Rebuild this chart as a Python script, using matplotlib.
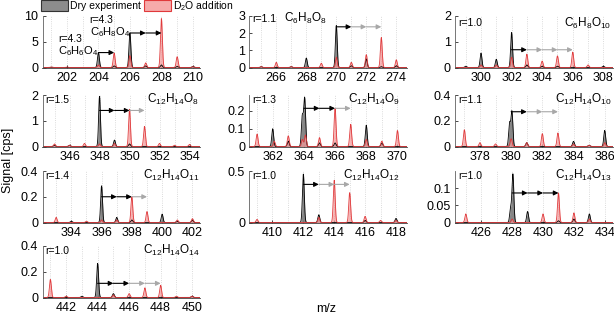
import numpy as np
import matplotlib
matplotlib.use('Agg')
import matplotlib.pyplot as plt
from matplotlib.patches import Patch

plt.rcParams['font.family'] = ['Liberation Sans', 'DejaVu Sans']
plt.rcParams['mathtext.default'] = 'regular'

# peak lists: (m/z, signal in cps)
p1_dry_mz = [201, 204, 205, 206, 207, 208, 209, 210]
p1_dry_int = [0.05, 2.9, 0.3, 6.7, 0.3, 0.5, 0.2, 0.2]
p1_d2o_mz = [201, 202, 204, 205, 206, 207, 208, 209, 210]
p1_d2o_int = [0.1, 0.1, 0.5, 2.8, 2.3, 0.9, 9.5, 2.1, 0.15]

p2_dry_mz = [265, 267, 268, 270, 271, 272, 273, 274]
p2_dry_int = [0.05, 0.05, 0.55, 2.45, 0.1, 0.5, 0.05, 0.1]
p2_d2o_mz = [265, 266, 267, 269, 270, 271, 272, 273, 274]
p2_d2o_int = [0.05, 0.3, 0.05, 0.25, 0.6, 0.3, 0.75, 1.75, 0.45]

p3_dry_mz = [299, 300, 301, 302, 303, 304, 305, 308]
p3_dry_int = [0.05, 0.56, 0.32, 1.36, 0.1, 0.05, 0.05, 0.05]
p3_d2o_mz = [300, 301, 302, 303, 304, 305, 306, 307]
p3_d2o_int = [0.1, 0.1, 0.4, 0.52, 0.25, 0.45, 0.6, 0.1]

p4_dry_mz = [345, 346, 348, 349, 350]
p4_dry_int = [0.05, 0.05, 1.95, 0.25, 0.1]
p4_d2o_mz = [345, 346, 347, 348, 349, 350, 351, 352, 353, 354]
p4_d2o_int = [0.1, 0.05, 0.12, 0.1, 0.12, 1.45, 0.78, 0.12, 0.05, 0.08]

p5_dry_mz = [362, 363, 363.9, 364.05, 365, 366, 368, 369]
p5_dry_int = [0.1, 0.03, 0.17, 0.27, 0.02, 0.02, 0.12, 0.02]
p5_d2o_mz = [361, 362.1, 363, 363.9, 364.1, 365, 366, 367, 368, 369, 370]
p5_d2o_int = [0.07, 0.03, 0.06, 0.04, 0.065, 0.05, 0.215, 0.125, 0.04, 0.03, 0.09]

p6_dry_mz = [379.9, 380.05, 381, 384, 385, 386]
p6_dry_int = [0.18, 0.27, 0.03, 0.04, 0.01, 0.125]
p6_d2o_mz = [377, 378, 379, 380, 381, 382, 383, 384, 385, 386]
p6_d2o_int = [0.13, 0.03, 0.02, 0.06, 0.03, 0.1, 0.105, 0.02, 0.01, 0.03]

p7_dry_mz = [394, 396, 397, 398, 400, 401, 402]
p7_dry_int = [0.01, 0.285, 0.04, 0.02, 0.065, 0.01, 0.02]
p7_d2o_mz = [393, 395, 396, 397, 398, 399, 401, 402]
p7_d2o_int = [0.04, 0.01, 0.02, 0.02, 0.2, 0.085, 0.02, 0.03]

p8_dry_mz = [412, 413, 416, 418]
p8_dry_int = [0.47, 0.075, 0.02, 0.04]
p8_d2o_mz = [409, 413, 414, 415, 416, 417, 418]
p8_d2o_int = [0.03, 0.05, 0.41, 0.29, 0.06, 0.02, 0.02]

p9_dry_mz = [427.9, 428.05, 429, 431, 432, 433]
p9_dry_int = [0.04, 0.14, 0.032, 0.005, 0.01, 0.025]
p9_d2o_mz = [425, 428, 430, 431, 432, 433]
p9_d2o_int = [0.025, 0.01, 0.025, 0.086, 0.028, 0.01]

p10_dry_mz = [443, 444, 445, 450]
p10_dry_int = [0.01, 0.265, 0.03, 0.01]
p10_d2o_mz = [441, 442, 445, 446, 447, 448, 449, 450]
p10_d2o_int = [0.14, 0.01, 0.02, 0.03, 0.075, 0.095, 0.01, 0.01]

formulas = ['C$_6$H$_8$O$_8$', 'C$_6$H$_8$O$_{10}$', 'C$_{12}$H$_{14}$O$_8$',
            'C$_{12}$H$_{14}$O$_9$', 'C$_{12}$H$_{14}$O$_{10}$', 'C$_{12}$H$_{14}$O$_{11}$',
            'C$_{12}$H$_{14}$O$_{12}$', 'C$_{12}$H$_{14}$O$_{13}$', 'C$_{12}$H$_{14}$O$_{14}$']
ratios = ['r=1.1', 'r=1.0', 'r=1.5', 'r=1.3', 'r=1.1', 'r=1.4', 'r=1.0', 'r=1.0', 'r=1.0']
parent_mz = [270, 302, 348, 364, 380, 396, 412, 428, 444]
arrow_y = [2.37, 0.69, 1.4, 0.215, 0.27, 0.2, 0.37, 0.086, 0.11]
# colour of each one-mass step of the shift arrow: k = black, g = grey
arrow_steps = ['kgg', 'kggg', 'kkg', 'kkg', 'kgg', 'kkg', 'kgg', 'kkk', 'kkgg']

# panel 1 holds two compounds
p1_formulas = ['C$_6$H$_6$O$_4$', 'C$_6$H$_8$O$_4$']
p1_ratios = ['r=4.3', 'r=4.3']
p1_parent = [204, 206]
p1_arrow_y = [2.9, 6.7]
p1_steps = ['k', 'kk']

spectra = [(p1_dry_mz, p1_dry_int, p1_d2o_mz, p1_d2o_int),
           (p2_dry_mz, p2_dry_int, p2_d2o_mz, p2_d2o_int),
           (p3_dry_mz, p3_dry_int, p3_d2o_mz, p3_d2o_int),
           (p4_dry_mz, p4_dry_int, p4_d2o_mz, p4_d2o_int),
           (p5_dry_mz, p5_dry_int, p5_d2o_mz, p5_d2o_int),
           (p6_dry_mz, p6_dry_int, p6_d2o_mz, p6_d2o_int),
           (p7_dry_mz, p7_dry_int, p7_d2o_mz, p7_d2o_int),
           (p8_dry_mz, p8_dry_int, p8_d2o_mz, p8_d2o_int),
           (p9_dry_mz, p9_dry_int, p9_d2o_mz, p9_d2o_int),
           (p10_dry_mz, p10_dry_int, p10_d2o_mz, p10_d2o_int)]

xlims = [(200.45, 210.45), (264.2, 274.7), (298.3, 308.6), (344.2, 354.7),
         (360.5, 370.6), (376.4, 386.5), (392.1, 402.5), (408.5, 418.7),
         (424.3, 434.5), (440.5, 450.5)]
xticks = [[202, 204, 206, 208, 210], [266, 268, 270, 272, 274],
          [300, 302, 304, 306, 308], [346, 348, 350, 352, 354],
          [362, 364, 366, 368, 370], [378, 380, 382, 384, 386],
          [394, 396, 398, 400, 402], [410, 412, 414, 416, 418],
          [426, 428, 430, 432, 434], [442, 444, 446, 448, 450]]
ylims = [10, 3, 2, 2, 0.29, 0.4, 0.4, 0.5, 0.15, 0.4]
yticks = [[0, 5, 10], [0, 1, 2, 3], [0, 1, 2], [0, 1, 2], [0, 0.1, 0.2],
          [0, 0.2, 0.4], [0, 0.2, 0.4], [0, 0.5], [0, 0.05, 0.1], [0, 0.2, 0.4]]
yticklabels = [['0', '5', '10'], ['0', '1', '2', '3'], ['0', '1', '2'], ['0', '1', '2'],
               ['0', '0.1', '0.2'], ['0', '0.2', '0.4'], ['0', '0.2', '0.4'],
               ['0', '0.5'], ['0', '0.05', '0.1'], ['0', '0.2', '0.4']]

W, H = 614, 326
fig = plt.figure(figsize=(W / 100, H / 100), dpi=100)

col_left = [42.5, 249.3, 455]
row_top = [16, 95, 171, 246]
ax_w, ax_h = 157.5, 51.5
slots = [(0, 0), (0, 1), (0, 2), (1, 0), (1, 1), (1, 2), (2, 0), (2, 1), (2, 2), (3, 0)]

DRY_FILL, DRY_LINE = '#7a7a7a', 'black'
D2O_FILL, D2O_LINE = '#f39a9a', '#e0393b'
GREY = '#a8a8a8'
SIGMA = 0.06


def profile(x, mz, inten):
    y = np.zeros_like(x)
    for m, h in zip(mz, inten):
        y += h * np.exp(-0.5 * ((x - m) / SIGMA) ** 2)
    return y


def shift_arrow(ax, m0, y, steps):
    for i, c in enumerate(steps):
        col = 'black' if c == 'k' else GREY
        ax.annotate('', xy=(m0 + i + 1, y), xytext=(m0 + i, y),
                    arrowprops=dict(arrowstyle='-|>', color=col, lw=0.8,
                                    mutation_scale=7, shrinkA=0, shrinkB=0))


for k, (r, c) in enumerate(slots):
    l = col_left[c] / W
    b = 1 - (row_top[r] + ax_h) / H
    ax = fig.add_axes([l, b, ax_w / W, ax_h / H])
    dmz, dint, rmz, rint = spectra[k]
    x = np.linspace(xlims[k][0], xlims[k][1], 3000)
    yd = profile(x, dmz, dint)
    yr = profile(x, rmz, rint)
    ax.fill_between(x, yd, color=DRY_FILL, lw=0, alpha=0.9)
    ax.plot(x, yd, color=DRY_LINE, lw=0.6)
    ax.fill_between(x, yr, color=D2O_FILL, lw=0, alpha=0.75)
    ax.plot(x, yr, color=D2O_LINE, lw=0.6)

    ax.set_xlim(*xlims[k])
    ax.set_ylim(0, ylims[k])
    ax.set_xticks(xticks[k])
    ax.set_xticks(np.arange(np.ceil(xlims[k][0]), xlims[k][1], 1), minor=True)
    ax.set_yticks(yticks[k])
    ax.set_yticklabels(yticklabels[k])
    ax.grid(True, which='both', axis='x', color='#cfcfcf', ls=':', lw=0.6)
    ax.set_axisbelow(True)
    for s in ('top', 'right'):
        ax.spines[s].set_visible(False)
    ax.spines['left'].set_color('#606060')
    ax.spines['left'].set_linewidth(0.6)
    ax.spines['bottom'].set_color('#404040')
    ax.spines['bottom'].set_linewidth(0.6)
    ax.tick_params(axis='both', which='major', labelsize=9, length=2,
                   width=0.5, direction='in', pad=3)
    ax.tick_params(axis='x', which='minor', length=0)

    if k == 0:
        for j in range(2):
            m0 = p1_parent[j]
            shift_arrow(ax, m0, p1_arrow_y[j], p1_steps[j])
            ax.text(m0 - 2.55, p1_arrow_y[j] + 0.2, p1_formulas[j],
                    fontsize=8, ha='left', va='center')
            ax.text(m0 - 2.55, p1_arrow_y[j] + 2.6, p1_ratios[j],
                    fontsize=7.5, ha='left', va='center')
    else:
        i = k - 1
        shift_arrow(ax, parent_mz[i], arrow_y[i], arrow_steps[i])
        ty = 0.95 if k == 1 else (0.86 if k == 2 else 0.91)
        ax.text(0.02, ty, ratios[i], transform=ax.transAxes,
                fontsize=7.5, ha='left', va='center')
        if k == 1:
            ax.text(266.5, ty, formulas[i], transform=ax.get_xaxis_transform(),
                    fontsize=8.5, ha='left', va='center')
        else:
            fx = 0.955 if k in (4, 7) else 0.995
            ax.text(fx, ty, formulas[i], transform=ax.transAxes,
                    fontsize=8.5, ha='right', va='center')

handles = [Patch(facecolor='#8c8c8c', edgecolor='#333333', lw=0.8),
           Patch(facecolor='#f6aaaa', edgecolor='#e0393b', lw=0.8)]
fig.legend(handles, ['Dry experiment', 'D$_2$O addition'], loc='upper left',
           bbox_to_anchor=(40 / W, 1 + 2 / H), ncol=2, frameon=False, fontsize=7.5,
           handlelength=2.6, handleheight=1.2, handletextpad=0.2,
           columnspacing=0.3, borderaxespad=0, borderpad=0.1)

fig.text(8 / W, 1 - 160 / H, 'Signal [cps]', rotation=90, fontsize=9,
         ha='center', va='center')
fig.text(326 / W, 1 - 309 / H, 'm/z', fontsize=9, ha='center', va='center')

fig.savefig('out.png', dpi=100)
